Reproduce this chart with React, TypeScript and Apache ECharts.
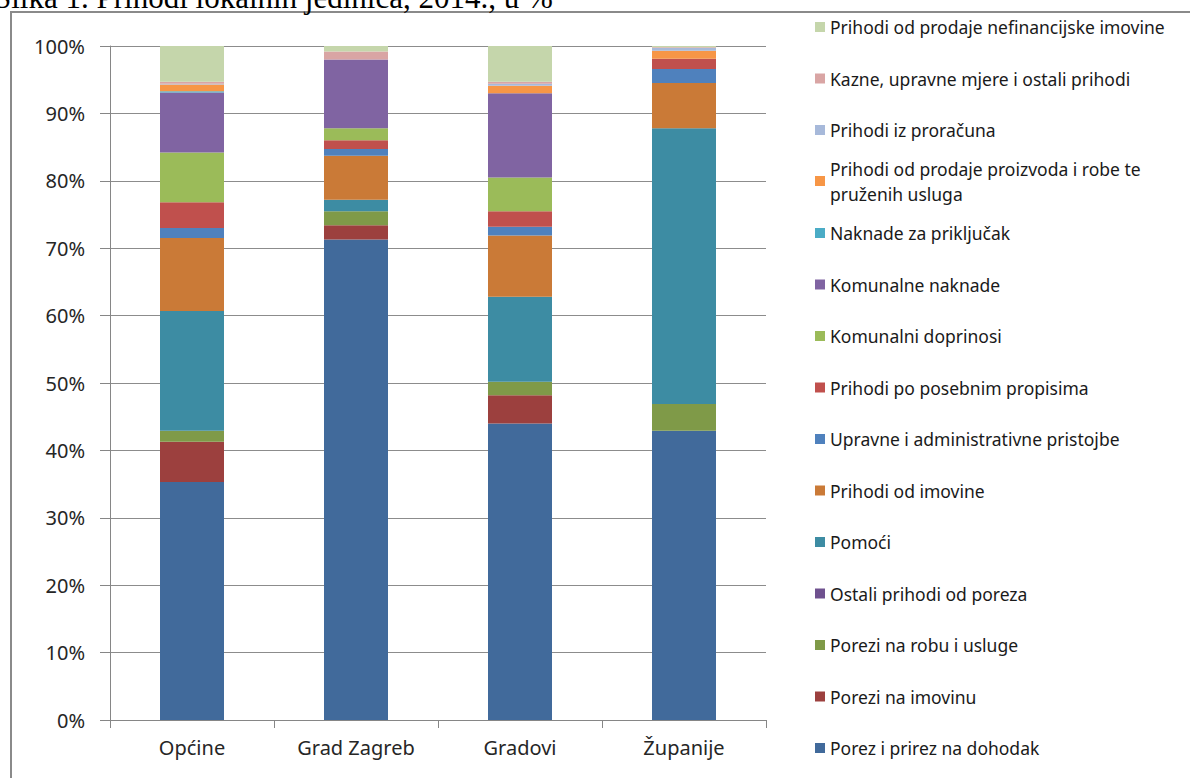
import React, { useEffect, useRef } from "react";
import * as echarts from "echarts";

const categories = ["Općine", "Grad Zagreb", "Gradovi", "Županije"];

const seriesNames = [
  "Porez i prirez na dohodak",
  "Porezi na imovinu",
  "Porezi na robu i usluge",
  "Ostali prihodi od poreza",
  "Pomoći",
  "Prihodi od imovine",
  "Upravne i administrativne pristojbe",
  "Prihodi po posebnim propisima",
  "Komunalni doprinosi",
  "Komunalne naknade",
  "Naknade za priključak",
  "Prihodi od prodaje proizvoda i robe te pruženih usluga",
  "Prihodi iz proračuna",
  "Kazne, upravne mjere i ostali prihodi",
  "Prihodi od prodaje nefinancijske imovine",
];

const porezPrirez = [35.3, 71.3, 44.0, 42.9];
const poreziImovina = [6.0, 2.1, 4.2, 0];
const poreziRobu = [1.6, 2.1, 2.0, 4.0];
const ostaliPorezi = [0, 0, 0, 0];
const pomoci = [17.8, 1.7, 12.6, 40.9];
const prihodiImovine = [10.8, 6.5, 9.1, 6.7];
const upravne = [1.5, 1.0, 1.3, 2.1];
const posebni = [3.8, 1.3, 2.3, 1.5];
const doprinosi = [7.4, 1.8, 5.0, 0];
const naknade = [8.9, 10.2, 12.5, 0];
const prikljucak = [0.2, 0, 0, 0];
const proizvoda = [1.0, 0, 1.1, 1.2];
const proracun = [0.1, 0, 0.3, 0.4];
const kazne = [0.3, 1.2, 0.3, 0.1];
const nefin = [5.3, 0.8, 5.3, 0.2];

const seriesValues = [
  porezPrirez, poreziImovina, poreziRobu, ostaliPorezi, pomoci, prihodiImovine,
  upravne, posebni, doprinosi, naknade, prikljucak, proizvoda, proracun, kazne, nefin,
];

const colors = [
  "#416A9B", "#9C403E", "#7F9A48", "#6F518F", "#3D8CA3", "#CA7A37",
  "#4F81BD", "#C0504D", "#9BBB59", "#8064A2", "#4BACC6", "#F79646",
  "#A7B9DA", "#D9A5A4", "#C5D6AB",
];

const yTicks = [0, 10, 20, 30, 40, 50, 60, 70, 80, 90, 100];
const titleText = "Slika 1. Prihodi lokalnih jedinica, 2014., u %";

const FONT = "'Noto Sans', sans-serif";

export default function App() {
  const ref = useRef<HTMLDivElement>(null);
  useEffect(() => {
    if (!ref.current) return;
    const chart = echarts.init(ref.current, null, { renderer: "svg" });
    const legendText = { fontFamily: FONT, fontSize: 17.5, color: "#1a1a1a", lineHeight: 20 };
    const option: any = {
      animation: false,
      backgroundColor: "#ffffff",
      color: colors,
      grid: { left: 110, right: 424, top: 46, bottom: 58, containLabel: false },
      xAxis: {
        type: "category",
        data: categories,
        axisLine: { show: true, lineStyle: { color: "#868686", width: 1 } },
        axisTick: { show: true, length: 8, lineStyle: { color: "#868686" } },
        axisLabel: { fontFamily: FONT, fontSize: 20, color: "#262626", margin: 17 },
      },
      yAxis: {
        type: "value",
        min: yTicks[0],
        max: yTicks[yTicks.length - 1],
        interval: 10,
        axisLine: { show: true, lineStyle: { color: "#868686", width: 1 } },
        axisTick: { show: true, length: 10, lineStyle: { color: "#868686" } },
        splitLine: { show: true, lineStyle: { color: "#8c8c8c", width: 1.2 } },
        axisLabel: {
          fontFamily: FONT, fontSize: 20, color: "#262626", margin: 25,
          formatter: (v: number) => v + "%",
        },
      },
      legend: [
        {
          orient: "vertical", left: 815, top: 17, padding: 0, itemGap: 31.5,
          itemWidth: 10, itemHeight: 10, icon: "rect",
          textStyle: legendText,
          data: [seriesNames[14], seriesNames[13], seriesNames[12]],
        },
        {
          orient: "vertical", left: 815, top: 143.5, padding: 0,
          itemWidth: 10, itemHeight: 10, icon: "rect",
          textStyle: { ...legendText, lineHeight: 25, padding: [25, 0, 0, 0] },
          formatter: () => "Prihodi od prodaje proizvoda i robe te\npruženih usluga",
          data: [seriesNames[11]],
        },
        {
          orient: "vertical", left: 815, top: 223, padding: 0, itemGap: 31.5,
          itemWidth: 10, itemHeight: 10, icon: "rect",
          textStyle: legendText,
          data: [
            seriesNames[10], seriesNames[9], seriesNames[8], seriesNames[7], seriesNames[6],
            seriesNames[5], seriesNames[4], seriesNames[3], seriesNames[2], seriesNames[1],
            seriesNames[0],
          ],
        },
      ],
      graphic: [
        {
          type: "rect",
          shape: { x: 11, y: 12, width: 1300, height: 900 },
          style: { fill: "none", stroke: "#8a8a8a", lineWidth: 2 },
          silent: true,
        },
        {
          type: "text",
          x: -6,
          y: -3,
          style: {
            text: titleText,
            fontFamily: "'Liberation Serif', serif",
            fontSize: 31,
            fill: "#000000",
            verticalAlign: "middle",
          },
          silent: true,
        },
      ],
      series: seriesNames.map((name, i) => ({
        name,
        type: "bar",
        stack: "total",
        barWidth: 64,
        data: seriesValues[i],
        itemStyle: { color: colors[i] },
      })),
    };
    chart.setOption(option);
    return () => chart.dispose();
  }, []);
  return (
    <div
      ref={ref}
      style={{ position: "fixed", left: 0, top: 0, width: 1190, height: 778, background: "#fff" }}
    />
  );
}
